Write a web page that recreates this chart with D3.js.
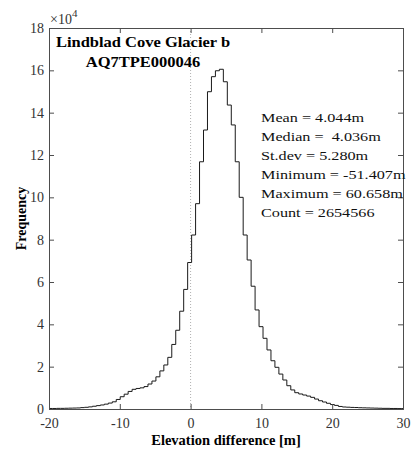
<!DOCTYPE html>
<html>
<head>
<meta charset="utf-8">
<script src="https://cdn.jsdelivr.net/npm/d3@7"></script>
<style>
  body { margin: 0; background: #fff; }
  svg text { font-family: "Liberation Serif", "Times New Roman", serif; }
</style>
</head>
<body>
<script>
// histogram: 200 equal bins between min and max of the data
var binMin = -51.407;
var binWidth = 0.560325;
var firstBin = 56;   // index of first bin shown (around -20 m)

// frequency per bin, in units of 1e4, bins 56 .. 145
var freq = [
  0.025, 0.025, 0.03, 0.03, 0.035, 0.04, 0.045, 0.05, 0.065, 0.08,
  0.10, 0.13, 0.16, 0.19, 0.23, 0.28, 0.34, 0.45, 0.58, 0.70,
  0.83, 0.93, 0.97, 1.00, 1.06, 1.18, 1.32, 1.52, 1.80, 2.08,
  2.44, 3.05, 3.72, 4.62, 5.65, 6.92, 8.22, 9.70, 11.68, 13.18,
  14.99, 15.70, 15.98, 16.05, 15.46, 14.36, 13.42, 11.68, 10.00, 8.22,
  7.04, 5.80, 4.68, 3.89, 3.34, 2.79, 2.28, 1.97, 1.65, 1.37,
  1.10, 0.90, 0.77, 0.71, 0.66, 0.61, 0.55, 0.47, 0.39, 0.33,
  0.27, 0.21, 0.17, 0.12, 0.095, 0.085, 0.075, 0.07, 0.06, 0.055,
  0.05, 0.045, 0.04, 0.035, 0.03, 0.03, 0.025, 0.025, 0.02, 0.02
];

var xTicks = [-20, -10, 0, 10, 20, 30];
var yTicks = [0, 2, 4, 6, 8, 10, 12, 14, 16, 18];

var titleLines = ["Lindblad Cove Glacier b", "AQ7TPE000046"];
var statLines = [
  "Mean = 4.044m",
  "Median =  4.036m",
  "St.dev = 5.280m",
  "Minimum = -51.407m",
  "Maximum = 60.658m",
  "Count = 2654566"
];

var width = 412, height = 449;
var pLeft = 49, pRight = 403, pTop = 28, pBottom = 409;
var axisColor = "#4d4d4d";
var textColor = "#333";

var svg = d3.select("body").append("svg")
    .attr("width", width)
    .attr("height", height);

var x = d3.scaleLinear().domain([-20, 30]).range([pLeft, pRight]);
var y = d3.scaleLinear().domain([0, 18]).range([pBottom, pTop]);

svg.append("clipPath").attr("id", "plotclip")
  .append("rect")
    .attr("x", pLeft).attr("y", pTop)
    .attr("width", pRight - pLeft).attr("height", pBottom - pTop);

// dotted line at zero
svg.append("line")
    .attr("x1", x(0)).attr("x2", x(0))
    .attr("y1", pTop).attr("y2", pBottom)
    .attr("stroke", "#b0b0b0")
    .attr("stroke-width", 1)
    .attr("stroke-dasharray", "1,2");

// stairs outline
var pts = [];
for (let i = 0; i < freq.length; i++) {
    let e0 = binMin + (firstBin + i) * binWidth;
    let e1 = e0 + binWidth;
    if (i == 0) pts.push([e0, 0]);
    pts.push([e0, freq[i]]);
    pts.push([e1, freq[i]]);
    if (i == freq.length - 1) pts.push([e1, 0]);
}
var line = d3.line()
    .x(function(d) { return x(d[0]); })
    .y(function(d) { return y(d[1]); });

svg.append("path")
    .attr("d", line(pts))
    .attr("clip-path", "url(#plotclip)")
    .attr("fill", "none")
    .attr("stroke", "#1a1a1a")
    .attr("stroke-width", 1);

// axes (ticks point inward like matlab)
var plain = function(d) { return String(d); };
var gx = svg.append("g").attr("transform", "translate(0," + pBottom + ")")
    .call(d3.axisBottom(x).tickValues(xTicks).tickSize(-5).tickPadding(9).tickFormat(plain));
var gy = svg.append("g").attr("transform", "translate(" + pLeft + ",0)")
    .call(d3.axisLeft(y).tickValues(yTicks).tickSize(-5).tickPadding(5).tickFormat(plain));
var gt = svg.append("g").attr("transform", "translate(0," + pTop + ")")
    .call(d3.axisTop(x).tickValues(xTicks).tickSize(-5).tickFormat(""));
var gr = svg.append("g").attr("transform", "translate(" + pRight + ",0)")
    .call(d3.axisRight(y).tickValues(yTicks).tickSize(-5).tickFormat(""));

[gx, gy, gt, gr].forEach(function(g) {
    g.select(".domain").attr("stroke", axisColor);
    g.selectAll(".tick line").attr("stroke", axisColor);
    g.selectAll(".tick text")
        .attr("fill", textColor)
        .style("font-family", "'Liberation Serif', serif")
        .style("font-size", "14px");
});

// exponent label
var expo = svg.append("text")
    .attr("x", pLeft + 1)
    .attr("y", 24)
    .attr("fill", textColor)
    .style("font-size", "14px")
    .text("\u00d710");
expo.append("tspan")
    .attr("dy", -7)
    .style("font-size", "11px")
    .text("4");

// title inside the plot (text in the source is a bit wide, so stretch it)
svg.selectAll(".ttl")
    .data(titleLines)
    .enter().append("text")
    .attr("class", "ttl")
    .attr("transform", function(d, i) { return "translate(143," + (47 + i * 19.5) + ") scale(1.1,1)"; })
    .attr("text-anchor", "middle")
    .style("font-size", "15px")
    .style("font-weight", "bold")
    .attr("fill", "#000")
    .text(function(d) { return d; });

// statistics
svg.selectAll(".stat")
    .data(statLines)
    .enter().append("text")
    .attr("class", "stat")
    .attr("transform", function(d, i) { return "translate(261," + (122 + i * 19) + ") scale(1.2,1)"; })
    .style("font-size", "13.5px")
    .style("white-space", "pre")
    .attr("fill", "#111")
    .text(function(d) { return d; });

// axis titles
svg.append("text")
    .attr("x", (pLeft + pRight) / 2)
    .attr("y", 445)
    .attr("text-anchor", "middle")
    .style("font-size", "14.5px")
    .style("font-weight", "bold")
    .text("Elevation difference [m]");

svg.append("text")
    .attr("transform", "translate(26," + (pTop + pBottom) / 2 + ") rotate(-90)")
    .attr("text-anchor", "middle")
    .style("font-size", "14px")
    .style("font-weight", "bold")
    .text("Frequency");
</script>
</body>
</html>
